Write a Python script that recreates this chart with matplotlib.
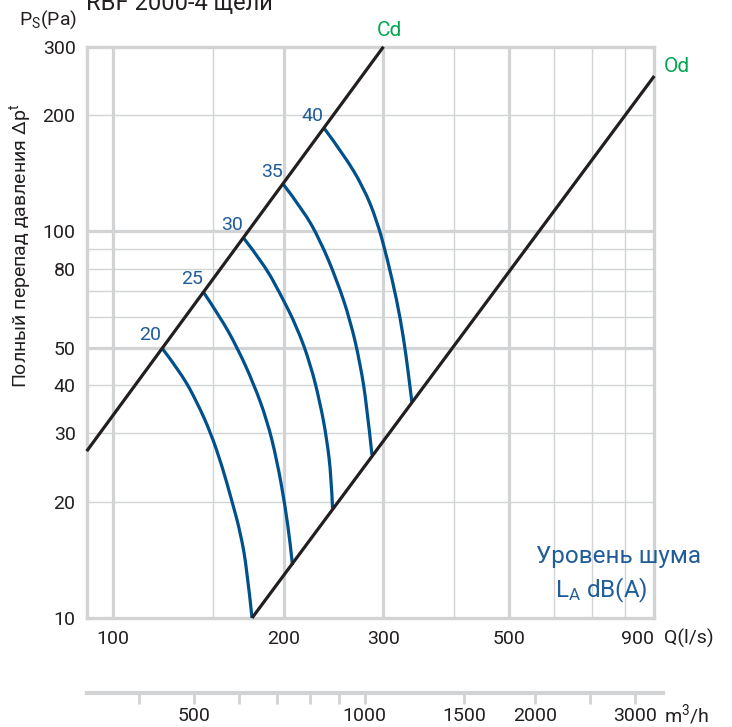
import numpy as np
import matplotlib
matplotlib.use("Agg")
import matplotlib.pyplot as plt
from matplotlib.path import Path
from matplotlib.patches import PathPatch
from matplotlib.ticker import NullLocator

plt.rcParams['font.family'] = ['Roboto', 'DejaVu Sans']
plt.rcParams['mathtext.fontset'] = 'custom'
plt.rcParams['mathtext.rm'] = 'Roboto'
plt.rcParams['mathtext.it'] = 'Roboto:italic'

TEXT = '#231f20'
GRID = '#d1d3d4'
BLUE = '#00508c'
BLUE_TXT = '#1f5c99'
GREEN = '#00a651'

# working range limits, Q in l/s, Ps in Pa
cd_q = [90, 300]
cd_p = [27, 300]
od_q = [176, 900]
od_p = [10, 252]

# constant sound level lines, LA dB(A)
noise_levels = [20, 25, 30, 35, 40]
noise_q = [
    [122, 132, 141, 149, 156, 162, 168, 172.5, 176],
    [144.6, 154.7, 165.6, 177.1, 187, 194.7, 201.4, 205.5, 207.4],
    [170.1, 184.5, 197.3, 211.2, 222.9, 232.1, 238.5, 242.7, 244],
    [200, 216.9, 232.1, 248.4, 262.1, 273, 280.5, 286.3],
    [236.2, 255, 276.6, 292.1, 304.2, 316.7, 325.3, 331.9, 336.6],
]
noise_p = [
    [50, 43, 36, 30, 24.6, 20.2, 16.6, 13.3, 10],
    [69.5, 60, 50.2, 40.4, 32.5, 25.6, 19.4, 15.6, 13.7],
    [96, 82.4, 69, 56.5, 45.5, 35.9, 28.9, 23.2, 19.2],
    [132, 113.1, 94.6, 74.6, 58.9, 45.5, 35.2, 26.4],
    [184, 158.3, 129.9, 106.6, 85.7, 66.3, 53.3, 42.9, 36.2],
]

x_ticks = [100, 200, 300, 500, 900]
y_ticks = [10, 20, 30, 40, 50, 80, 100, 200, 300]
x_grid_major = [100, 200, 300, 500]
x_grid_minor = [150, 400, 600, 700, 800]
y_grid_major = [50, 100]
y_grid_minor = [20, 30, 40, 60, 70, 80, 90, 200]
m3h_major = [500, 1000, 1500, 2000, 3000]
m3h_minor = [400, 600, 700, 800, 900, 2500]


def smooth_path(q, p):
    # quadratic bezier chain: the readings act as control points,
    # the curve runs through the first and last one
    q, p = np.asarray(q, float), np.asarray(p, float)
    verts = [(q[0], p[0])]
    codes = [Path.MOVETO]
    for i in range(1, len(q) - 2):
        verts += [(q[i], p[i]), (np.sqrt(q[i] * q[i + 1]), np.sqrt(p[i] * p[i + 1]))]
        codes += [Path.CURVE3, Path.CURVE3]
    verts += [(q[-2], p[-2]), (q[-1], p[-1])]
    codes += [Path.CURVE3, Path.CURVE3]
    return Path(verts, codes)


W, H = 732, 727
fig = plt.figure(figsize=(W / 100, H / 100), dpi=100)
ax = fig.add_axes([86.7 / W, 1 - 618 / H, (654.3 - 86.7) / W, (618 - 46.7) / H])
ax.set_xscale('log')
ax.set_yscale('log')
ax.set_xlim(90, 900)
ax.set_ylim(10, 300)

for v in x_grid_major:
    ax.axvline(v, color=GRID, lw=2.3, zorder=1)
for v in x_grid_minor:
    ax.axvline(v, color=GRID, lw=1.0, zorder=1)
for v in y_grid_major:
    ax.axhline(v, color=GRID, lw=2.3, zorder=1)
for v in y_grid_minor:
    ax.axhline(v, color=GRID, lw=1.0, zorder=1)

for s in ax.spines.values():
    s.set_color(GRID)
    s.set_linewidth(2.4)

ax.plot(cd_q, cd_p, color=TEXT, lw=2.3, solid_capstyle='butt', zorder=4, clip_on=False)
ax.plot(od_q, od_p, color=TEXT, lw=2.3, solid_capstyle='butt', zorder=4, clip_on=False)

for lvl, q, p in zip(noise_levels, noise_q, noise_p):
    ax.add_patch(PathPatch(smooth_path(q, p), fill=False, edgecolor=BLUE, lw=2.3,
                           capstyle='butt', zorder=3))
    ax.annotate(str(lvl), (q[0], p[0]), xytext=(-12, 13), textcoords='offset pixels',
                ha='center', va='center', color=BLUE_TXT, fontsize=14)

ax.annotate('Cd', (cd_q[-1], cd_p[-1]), xytext=(6, 16), textcoords='offset pixels',
            ha='center', va='center', color=GREEN, fontsize=15)
ax.annotate('Od', (od_q[-1], od_p[-1]), xytext=(23, 9), textcoords='offset pixels',
            ha='center', va='center', color=GREEN, fontsize=15)

ax.xaxis.set_minor_locator(NullLocator())
ax.yaxis.set_minor_locator(NullLocator())
ax.set_xticks(x_ticks, labels=[str(v) for v in x_ticks])
ax.set_yticks(y_ticks, labels=[str(v) for v in y_ticks])
ax.tick_params(axis='both', length=0, colors=TEXT, labelsize=14)
ax.tick_params(axis='x', pad=9)
ax.tick_params(axis='y', pad=8)
ax.get_xticklabels()[-1].set_ha('right')

# airflow in m3/h under the main axis
sec = ax.secondary_xaxis(-0.131, functions=(lambda q: q * 3.6, lambda m: m / 3.6))
sec.set_xticks(m3h_major, labels=[str(v) for v in m3h_major])
sec.set_xticks(m3h_minor, minor=True)
sec.spines['bottom'].set_color(GRID)
sec.spines['bottom'].set_linewidth(3)
sec.spines['bottom'].set_bounds(325, 3350)
sec.tick_params(which='both', direction='out', length=8, width=2, color=GRID,
                labelcolor=TEXT, labelsize=14, pad=2)

fig.text(664 / W, 1 - 638 / H, 'Q(l/s)', ha='left', va='center', color=TEXT, fontsize=14)
fig.text(664 / W, 1 - 715 / H, r'm$^{\mathregular{3}}$/h', ha='left', va='center',
         color=TEXT, fontsize=14)

fig.text(86 / W, 1 - 10 / H, 'RBF 2000-4 щели', ha='left', va='baseline',
         color=TEXT, fontsize=17)
fig.text(77 / W, 1 - 20 / H, r'P$_{\mathregular{S}}$(Pa)', ha='right', va='center',
         color=TEXT, fontsize=14)
fig.text(20 / W, 1 - 246 / H, r'Полный перепад давления Δp$^{\mathregular{t}}$',
         rotation=90, ha='center', va='center', color=TEXT, fontsize=14)

fig.text(618 / W, 1 - 557 / H, 'Уровень шума', ha='center', va='center',
         color=BLUE_TXT, fontsize=17.5)
fig.text(601 / W, 1 - 590 / H, r'L$_{\mathregular{A}}$ dB(A)', ha='center', va='center',
         color=BLUE_TXT, fontsize=17.5)

fig.savefig('out.png', dpi=100)
